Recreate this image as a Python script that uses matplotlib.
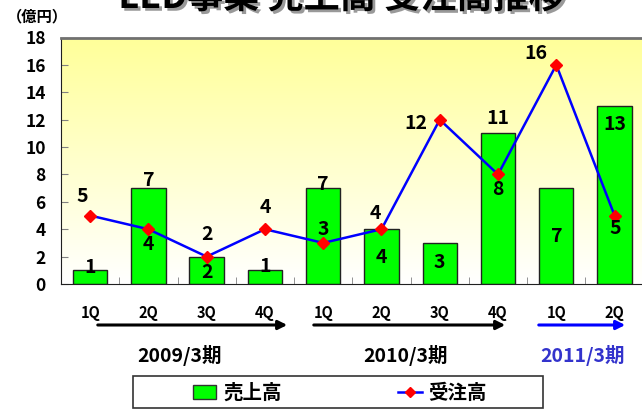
import numpy as np
import matplotlib
matplotlib.use("Agg")
import matplotlib.pyplot as plt
from matplotlib.patches import Patch, Rectangle
from matplotlib.lines import Line2D
import matplotlib.patheffects as pe

plt.rcParams['font.family'] = ['Noto Sans CJK JP', 'DejaVu Sans']
plt.rcParams['font.weight'] = 'bold'

quarters = ['1Q', '2Q', '3Q', '4Q', '1Q', '2Q', '3Q', '4Q', '1Q', '2Q']
periods = ['2009/3期', '2010/3期', '2011/3期']
sales = [1, 7, 2, 1, 7, 4, 3, 11, 7, 13]      # 売上高
orders = [5, 4, 2, 4, 3, 4, 12, 8, 16, 5]     # 受注高

# label offsets in pixels (dx, dy) relative to bar top / marker
sales_off = [(0, 3), (0, 8), (0, -16), (0, 4), (0, 4), (0, -28), (0, -20), (0, 15), (0, -48), (0, -19)]
order_off = [(-8, 19), (0, -15), (0, 22), (0, 22), (0, 13), (-6, 16), (-24, -4), (0, -15), (-20, 11), (1, -13)]

W, H = 642, 409
fig = plt.figure(figsize=(W / 100, H / 100), dpi=100)
ax = fig.add_axes([61 / W, 1 - 284 / H, (643.7 - 61) / W, (284 - 37.5) / H])

x = np.arange(len(quarters))
ax.set_xlim(-0.5, len(quarters) - 0.5)
ax.set_ylim(0, 18)

# yellow-to-white background
grad = np.linspace(1, 0, 256).reshape(-1, 1)
top = np.array([1.0, 1.0, 0.6])
bot = np.array([1.0, 1.0, 1.0])
img = grad[..., None] * top + (1 - grad[..., None]) * bot
ax.imshow(img, extent=(-0.5, len(quarters) - 0.5, 0, 18), aspect='auto', zorder=0)

ax.bar(x, sales, width=0.59, color='#00FF00', edgecolor='#222222', linewidth=1, zorder=2)
ax.plot(x, orders, color='#0000FF', lw=1.8, marker='D', markersize=6,
        mfc='#FF0000', mec='#FF0000', zorder=3)

lab = dict(ha='center', va='center', fontsize=14, fontweight='bold', textcoords='offset pixels', zorder=4)
for i, v in enumerate(sales):
    ax.annotate(str(v), (x[i], v), xytext=sales_off[i], **lab)
for i, v in enumerate(orders):
    ax.annotate(str(v), (x[i], v), xytext=order_off[i], **lab)

ax.set_yticks(range(0, 19, 2))
ax.tick_params(axis='y', direction='in', length=5, color='#808080', pad=11, labelsize=12.5)
ax.set_xticks(x)
ax.set_xticklabels(quarters)
ax.set_xticks(np.arange(0.5, len(quarters) - 0.5, 1), minor=True)
ax.tick_params(axis='x', which='major', length=0, pad=15, labelsize=10.5)
ax.tick_params(axis='x', which='minor', direction='in', length=5, color='#808080')
for lbl in ax.get_xticklabels() + ax.get_yticklabels():
    lbl.set_fontweight('bold')

ax.spines['left'].set_color('#202020')
ax.spines['bottom'].set_color('#202020')
ax.spines['top'].set_color('#707070')
ax.spines['top'].set_linewidth(2)
ax.spines['right'].set_visible(False)

# title (runs off the top edge) and unit
fig.text(341.5 / W, 1 - 8 / H, 'LED事業 売上高 受注高推移', ha='center', va='baseline',
         fontsize=26, fontweight='bold',
         path_effects=[pe.withSimplePatchShadow(offset=(2, -2), shadow_rgbFace='#808080', alpha=0.8)])
fig.text(37 / W, 1 - 16 / H, '（億円）', ha='center', va='center', fontsize=11, fontweight='bold')

# fiscal period arrows
arrows = [(95, 290, 'black'), (311, 508, 'black'), (536, 628, '#0000FF')]
for x0, x1, c in arrows:
    fig.add_artist(matplotlib.patches.FancyArrowPatch(
        (x0 / W, 1 - 325 / H), (x1 / W, 1 - 325 / H), transform=fig.transFigure,
        arrowstyle='-|>', mutation_scale=13, lw=2.2, color=c))

period_x = [180, 406, 583]
period_c = ['black', 'black', '#3333CC']
for px, txt, c in zip(period_x, periods, period_c):
    fig.text(px / W, 1 - 356 / H, txt, ha='center', va='center', fontsize=14,
             fontweight='bold', color=c)

# legend
handles = [Patch(facecolor='#00FF00', edgecolor='#333333'),
           Line2D([], [], color='#0000FF', lw=1.8, marker='D', markersize=5,
                  mfc='#FF0000', mec='#FF0000')]
fig.legend(handles, ['売上高', '受注高'], ncol=2, loc='center',
           bbox_to_anchor=(340 / W, 1 - 393 / H), frameon=False,
           prop={'size': 14, 'weight': 'bold'}, columnspacing=6.0,
           handlelength=1.2, handletextpad=0.35)
fig.add_artist(Rectangle((133 / W, 1 - 408 / H), 410 / W, 32 / H, transform=fig.transFigure,
                         fill=False, edgecolor='#333333', lw=1.2))

fig.savefig('out.png', dpi=100)
